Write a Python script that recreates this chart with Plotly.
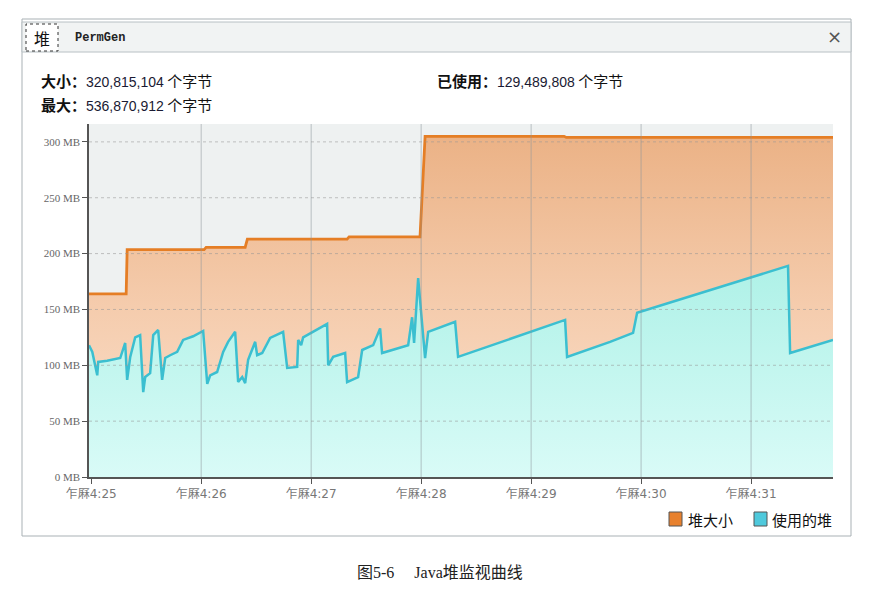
import plotly.graph_objects as go

# ---- data (minutes after 4:25, MB) ----
heap_t = [-0.02, 0.318, 0.327, 1.027, 1.045, 1.40, 1.42, 2.327, 2.345, 2.99, 3.036, 4.30, 4.32, 6.745]
heap_mb = [164, 164, 203.5, 203.5, 205.5, 205.5, 213, 213, 215, 215, 305, 305, 304, 304]

used_t = [-0.02, 0.01, 0.055, 0.064, 0.145, 0.264, 0.309, 0.327, 0.355, 0.40, 0.445, 0.473, 0.491,
          0.536, 0.564, 0.609, 0.645, 0.673, 0.718, 0.782, 0.836, 0.927, 1.018, 1.055, 1.082,
          1.145, 1.20, 1.245, 1.309, 1.336, 1.373, 1.40, 1.427, 1.491, 1.509, 1.555, 1.627,
          1.718, 1.745, 1.782, 1.873, 1.882, 1.909, 1.927, 2.018, 2.145, 2.155, 2.20, 2.309,
          2.327, 2.427, 2.464, 2.564, 2.627, 2.645, 2.745, 2.882, 2.918, 2.936, 2.973, 3.036,
          3.064, 3.309, 3.336, 4.309, 4.327, 4.718, 4.927, 4.964, 6.336, 6.355, 6.745]
used_mb = [118, 112, 91, 103, 104, 106.5, 120, 87, 107.5, 125, 127, 76, 89.5,
           93, 127, 131.6, 87, 106.5, 109, 112, 122.7, 126, 130.7, 83.3, 91,
           94, 112, 121, 130, 85, 89.5, 84, 105, 121, 109, 111, 124.5,
           129, 130, 97.6, 98.5, 122.7, 118, 125, 130, 137, 100, 107.5, 111,
           85, 89.5, 113.7, 118, 133, 111, 113.7, 118, 143, 120, 178, 106.5,
           130, 139, 107.5, 140.6, 107.5, 121, 129, 147, 189, 111, 122.7]

tick_vals = [0, 1, 2, 3, 4, 5, 6]
tick_text = ["乍厤4:25", "乍厤4:26", "乍厤4:27", "乍厤4:28", "乍厤4:29", "乍厤4:30", "乍厤4:31"]
y_ticks = [0, 50, 100, 150, 200, 250, 300]
y_text = ["0 MB", "50 MB", "100 MB", "150 MB", "200 MB", "250 MB", "300 MB"]

series_names = ["堆大小", "使用的堆"]
info_size = "320,815,104"
info_max = "536,870,912"
info_used = "129,489,808"

W, H = 879, 606
L, R, T, B = 89, 833, 124, 477
X_RANGE = [-0.02, 6.745]
Y_RANGE = [0, 316]


def px(x):
    return (x - L) / (R - L)


def py(y):
    return (B - y) / (B - T)


CJK = "Noto Sans CJK SC"
NUM = "font-family:Liberation Sans;font-size:14px;color:#1a1a33"

fig = go.Figure()
fig.add_trace(go.Scatter(
    x=heap_t, y=heap_mb, mode="lines", name=series_names[0],
    line=dict(color="#E57E25", width=2.8),
    fill="tozeroy",
    fillgradient=dict(type="vertical", start=0, stop=305,
                      colorscale=[[0, "#FBE2CF"], [0.5, "#F5CCAD"], [1, "#EBB286"]]),
    showlegend=False, hoverinfo="skip"))
fig.add_trace(go.Scatter(
    x=used_t, y=used_mb, mode="lines", name=series_names[1],
    line=dict(color="#3BBFD0", width=2.5),
    fill="tozeroy",
    fillgradient=dict(type="vertical", start=0, stop=190,
                      colorscale=[[0, "#D9FBF7"], [1, "#AEF1E7"]]),
    showlegend=False, hoverinfo="skip"))

shapes = [
    # panel border
    dict(type="rect", xref="paper", yref="paper", x0=px(22), x1=px(851), y0=py(536), y1=py(19),
         line=dict(color="#A9B1B5", width=1), fillcolor="rgba(0,0,0,0)", layer="below"),
    # tab bar
    dict(type="rect", xref="paper", yref="paper", x0=px(22), x1=px(851), y0=py(52), y1=py(22),
         line=dict(color="#B8C0C4", width=1), fillcolor="#F1F3F3", layer="below"),
    # selected tab
    dict(type="rect", xref="paper", yref="paper", x0=px(26), x1=px(58), y0=py(51), y1=py(24),
         line=dict(color="#333333", width=1, dash="dot"), fillcolor="#FFFFFF", layer="below"),
    # legend swatches
    dict(type="rect", xref="paper", yref="paper", x0=px(669), x1=px(682), y0=py(526), y1=py(512),
         line=dict(color="#555555", width=1), fillcolor="#E8812E"),
    dict(type="rect", xref="paper", yref="paper", x0=px(754), x1=px(767), y0=py(526), y1=py(512),
         line=dict(color="#555555", width=1), fillcolor="#4FC9DC"),
]
# grid drawn above the filled areas (as in the reference)
for tv in tick_vals[1:]:
    shapes.append(dict(type="line", xref="x", yref="paper", x0=tv, x1=tv, y0=0, y1=1,
                       line=dict(color="rgba(140,150,155,0.55)", width=1), layer="above"))
for yv in y_ticks[1:]:
    shapes.append(dict(type="line", xref="paper", yref="y", x0=0, x1=1, y0=yv, y1=yv,
                       line=dict(color="rgba(150,150,150,0.55)", width=1, dash="dot"), layer="above"))

anns = [
    dict(text="堆", x=px(42), y=py(38), font=dict(family=CJK, size=16, color="#111111"),
         xanchor="center"),
    dict(text="<b>PermGen</b>", x=px(73), y=py(38), font=dict(family="Liberation Mono", size=12, color="#222222"),
         xanchor="left"),
    dict(text="×", x=px(834), y=py(37), font=dict(family="DejaVu Sans", size=18, color="#555555"),
         xanchor="center"),
    dict(text="<b>大小：</b><span style='" + NUM + "'>" + info_size + "</span> 个字节",
         x=px(39), y=py(80), font=dict(family=CJK, size=15, color="#111111"), xanchor="left"),
    dict(text="<b>最大：</b><span style='" + NUM + "'>" + info_max + "</span> 个字节",
         x=px(39), y=py(104), font=dict(family=CJK, size=15, color="#111111"), xanchor="left"),
    dict(text="<b>已使用：</b><span style='" + NUM + "'>" + info_used + "</span> 个字节",
         x=px(435), y=py(80), font=dict(family=CJK, size=15, color="#111111"), xanchor="left"),
    dict(text=series_names[0], x=px(686), y=py(519), font=dict(family=CJK, size=15, color="#111111"),
         xanchor="left"),
    dict(text=series_names[1], x=px(770), y=py(519), font=dict(family=CJK, size=15, color="#111111"),
         xanchor="left"),
    dict(text="图5-6　 Java堆监视曲线", x=px(440), y=py(572),
         font=dict(family="Liberation Serif, Noto Sans CJK SC", size=16, color="#222222"), xanchor="center"),
]
for a in anns:
    a.update(xref="paper", yref="paper", showarrow=False, yanchor="middle")

fig.update_layout(
    width=W, height=H,
    margin=dict(l=L, r=W - R, t=T, b=H - B, pad=0),
    paper_bgcolor="#FFFFFF",
    plot_bgcolor="#EEF1F1",
    shapes=shapes,
    annotations=anns,
    showlegend=False,
    xaxis=dict(range=X_RANGE, tickmode="array", tickvals=tick_vals, ticktext=tick_text,
               showgrid=False,
               showline=True, linecolor="#555555", linewidth=1.5,
               ticks="outside", ticklen=5, tickcolor="#555555",
               tickfont=dict(family="DejaVu Sans, Noto Sans CJK SC", size=12, color="#777777"),
               zeroline=False, fixedrange=True),
    yaxis=dict(range=Y_RANGE, tickmode="array", tickvals=y_ticks, ticktext=y_text,
               showgrid=False,
               showline=True, linecolor="#555555", linewidth=1.5,
               ticks="outside", ticklen=5, tickcolor="#555555",
               tickfont=dict(family="Liberation Serif", size=11, color="#666666"),
               zeroline=False, fixedrange=True),
)

fig.write_html("out.html", config={"displayModeBar": False},
               post_script="document.body.style.margin='0';")
